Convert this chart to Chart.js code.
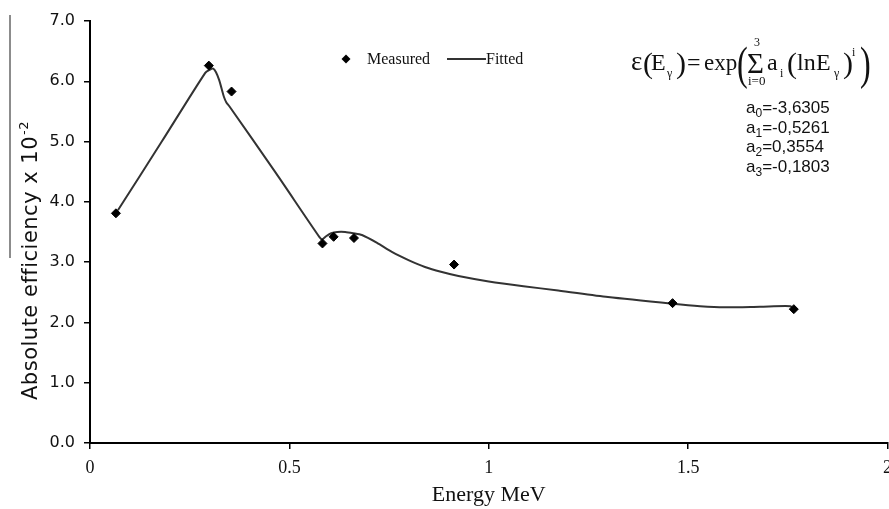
<!DOCTYPE html>
<html>
<head>
  <script src="https://cdn.jsdelivr.net/npm/chart.js"></script>
  <style>
    html, body { margin: 0; padding: 0; background: #fff; overflow: hidden; }
    #wrap { width: 900px; height: 509px; }
  </style>
</head>
<body>
  <div id="wrap">
    <canvas id="chartContainer" width="900" height="509"></canvas>
  </div>
  <script>
    // measured points (energy in MeV, efficiency x 10^-2)
    const measuredEnergy = [0.065, 0.298, 0.355, 0.583, 0.611, 0.662, 0.913, 1.461, 1.765];
    const measuredEff = [3.81, 6.26, 5.83, 3.31, 3.42, 3.40, 2.96, 2.32, 2.22];

    // fitted curve
    const fittedEnergy = [0.070, 0.180, 0.289, 0.300, 0.309, 0.316, 0.324, 0.330, 0.336, 0.342, 0.349, 0.466, 0.575, 0.582, 0.592, 0.605, 0.620, 0.640, 0.660, 0.682, 0.720, 0.757, 0.800, 0.840, 0.880, 0.924, 1.000, 1.087, 1.174, 1.299, 1.461, 1.530, 1.590, 1.680, 1.757, 1.765];
    const fittedEff = [3.86, 5.00, 6.14, 6.19, 6.21, 6.15, 6.02, 5.88, 5.74, 5.65, 5.59, 4.48, 3.42, 3.38, 3.43, 3.48, 3.50, 3.50, 3.48, 3.45, 3.32, 3.17, 3.03, 2.92, 2.84, 2.77, 2.68, 2.60, 2.53, 2.42, 2.31, 2.27, 2.25, 2.26, 2.27, 2.22];

    const xTickLabels = ['0', '0.5', '1', '1.5', '2'];
    const yTickLabels = ['0.0', '1.0', '2.0', '3.0', '4.0', '5.0', '6.0', '7.0'];

    const coefNames = ['0', '1', '2', '3'];
    const coefValues = ['-3,6305', '-0,5261', '0,3554', '-0,1803'];

    function toPoints(xs, ys) {
      return xs.map((x, i) => ({ x: x, y: ys[i] }));
    }

    const serif = '"Liberation Serif", "Times New Roman", serif';
    const sans = '"DejaVu Sans", Verdana, sans-serif';

    // text the library can't place the way the figure does: legend, formula, y title
    const annotations = {
      id: 'annotations',
      afterDraw(chart) {
        const ctx = chart.ctx;
        ctx.save();
        ctx.fillStyle = '#111';
        ctx.textBaseline = 'alphabetic';
        ctx.textAlign = 'left';

        // stray line left of the y title
        ctx.strokeStyle = '#666';
        ctx.lineWidth = 1.5;
        ctx.beginPath();
        ctx.moveTo(10, 15);
        ctx.lineTo(10, 258);
        ctx.stroke();

        // y title, rotated
        ctx.save();
        ctx.translate(37, 400);
        ctx.rotate(-Math.PI / 2);
        ctx.font = '21px ' + sans;
        ctx.letterSpacing = '0.5px';
        ctx.fillText('Absolute efficiency x 10', 0, 0);
        const w = ctx.measureText('Absolute efficiency x 10').width;
        ctx.font = '13px ' + sans;
        ctx.fillText('-2', w + 1, -9);
        ctx.restore();

        // legend
        ctx.fillStyle = '#000';
        ctx.beginPath();
        ctx.moveTo(346, 54.5);
        ctx.lineTo(350.5, 59);
        ctx.lineTo(346, 63.5);
        ctx.lineTo(341.5, 59);
        ctx.closePath();
        ctx.fill();
        ctx.font = '16px ' + serif;
        ctx.fillStyle = '#111';
        ctx.fillText('Measured', 367, 64);
        ctx.strokeStyle = '#333';
        ctx.lineWidth = 2;
        ctx.beginPath();
        ctx.moveTo(447, 59);
        ctx.lineTo(486, 59);
        ctx.stroke();
        ctx.fillText('Fitted', 486, 64);

        // formula
        function t(txt, x, y, size) {
          ctx.font = size + 'px ' + serif;
          ctx.fillText(txt, x, y);
        }
        function bigParen(txt, x, y) {
          ctx.save();
          ctx.translate(x, y);
          ctx.scale(0.7, 1);
          ctx.font = '46px ' + serif;
          ctx.fillText(txt, 0, 0);
          ctx.restore();
        }
        t('\u03b5', 631, 70, 27);
        t('(', 643, 73, 30);
        t('E', 651, 70, 24);
        t('\u03b3', 667, 77, 12);
        t(')', 676, 73, 30);
        t('=', 687, 70, 24);
        t('exp', 704, 70, 23);
        bigParen('(', 737, 79);
        t('\u03a3', 747, 73, 29);
        t('3', 754, 46, 12);
        t('i=0', 748, 85, 13);
        t('a', 767, 70, 24);
        t('i', 780, 77, 12);
        t('(', 787, 73, 30);
        t('ln', 797, 70, 24);
        t('E', 816, 70, 24);
        t('\u03b3', 834, 77, 12);
        t(')', 843, 73, 30);
        t('i', 852, 56, 12);
        bigParen(')', 860, 79);

        // coefficients
        coefNames.forEach((n, i) => {
          const y = 113 + i * 19.7;
          ctx.font = '17px "Liberation Sans", Arial, sans-serif';
          ctx.fillText('a', 746, y);
          const aw = ctx.measureText('a').width;
          ctx.font = '12px "Liberation Sans", Arial, sans-serif';
          ctx.fillText(n, 746 + aw, y + 4);
          const nw = ctx.measureText(n).width;
          ctx.font = '17px "Liberation Sans", Arial, sans-serif';
          ctx.fillText('=' + coefValues[i], 746 + aw + nw, y);
        });

        ctx.restore();
      }
    };

    const ctx = document.getElementById('chartContainer').getContext('2d');
    const myChart = new Chart(ctx, {
      type: 'line',
      data: {
        datasets: [
          {
            label: 'Measured',
            data: toPoints(measuredEnergy, measuredEff),
            showLine: false,
            pointStyle: 'rectRot',
            pointRadius: 4.5,
            pointBackgroundColor: '#000',
            pointBorderColor: '#000',
            pointBorderWidth: 1,
            order: 0
          },
          {
            label: 'Fitted',
            data: toPoints(fittedEnergy, fittedEff),
            borderColor: '#333',
            borderWidth: 2,
            pointRadius: 0,
            fill: false,
            tension: 0.25,
            order: 1
          }
        ]
      },
      options: {
        responsive: false,
        animation: false,
        layout: { padding: { top: 21, right: 10, left: 0, bottom: 0 } },
        plugins: {
          legend: { display: false },
          tooltip: { enabled: false }
        },
        scales: {
          x: {
            type: 'linear',
            min: 0,
            max: 2,
            afterFit: function (scale) { scale.height = 66; },
            ticks: {
              stepSize: 0.5,
              color: '#111',
              padding: 8,
              maxRotation: 0,
              font: { family: serif, size: 18 },
              callback: function (value, index) { return xTickLabels[index]; }
            },
            grid: { display: true, drawOnChartArea: false, drawTicks: true, tickLength: 6, color: '#000', lineWidth: 1.5 },
            border: { display: true, color: '#000', width: 2 },
            title: {
              display: true,
              text: 'Energy MeV',
              color: '#111',
              font: { family: serif, size: 22 },
              padding: { top: 0, bottom: 1 }
            }
          },
          y: {
            min: 0,
            max: 7,
            afterFit: function (scale) { scale.width = 90; },
            ticks: {
              stepSize: 1,
              color: '#111',
              padding: 9,
              font: { family: sans, size: 16 },
              callback: function (value, index) { return yTickLabels[index]; }
            },
            grid: { display: true, drawOnChartArea: false, drawTicks: true, tickLength: 6, color: '#000', lineWidth: 1.5 },
            border: { display: true, color: '#000', width: 2 }
          }
        }
      },
      plugins: [annotations]
    });
  </script>
</body>
</html>
